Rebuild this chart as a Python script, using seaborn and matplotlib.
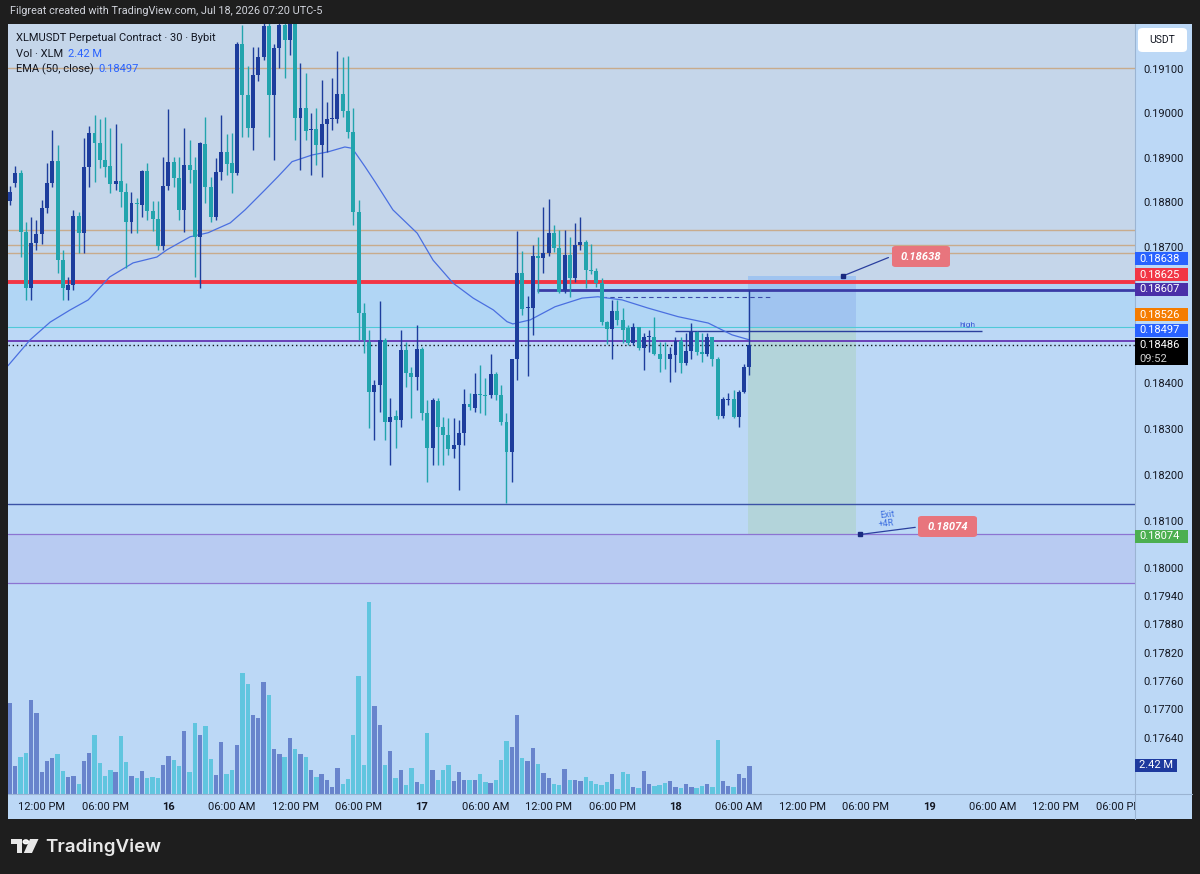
import numpy as np
import pandas as pd
import seaborn as sns
import matplotlib.pyplot as plt
from matplotlib.patches import Rectangle, Polygon, Circle, FancyBboxPatch

sns.set_style('white')
plt.rcParams['font.family'] = ['Roboto', 'DejaVu Sans']

# XLMUSDT perpetual, 30 min candles, Jul 15 09:00 -> Jul 18 07:00
opens = [0.18804, 0.18845, 0.18867, 0.18736, 0.18611, 0.18712, 0.18731, 0.18790, 0.18845, 0.18895,
         0.18673, 0.18608, 0.18618, 0.18772, 0.18733, 0.18880, 0.18957, 0.18934, 0.18897, 0.18884,
         0.18842, 0.18850, 0.18824, 0.18759, 0.18801, 0.18796, 0.18871, 0.18783, 0.18764, 0.18704,
         0.18839, 0.18892, 0.18856, 0.18785, 0.18885, 0.18874, 0.18725, 0.18933, 0.18836, 0.18770,
         0.18869, 0.18914, 0.18889, 0.18867, 0.19159, 0.19044, 0.18968, 0.19089, 0.19130, 0.19199,
         0.19044, 0.19149, 0.19203, 0.19168, 0.19215, 0.18991, 0.19015, 0.18964, 0.18966, 0.18930,
         0.18977, 0.18989, 0.18990, 0.19046, 0.19006, 0.18960, 0.18781, 0.18556, 0.18493, 0.18383,
         0.18398, 0.18497, 0.18318, 0.18331, 0.18322, 0.18475, 0.18425, 0.18415, 0.18477, 0.18337,
         0.18261, 0.18364, 0.18307, 0.18289, 0.18259, 0.18267, 0.18293, 0.18357, 0.18348, 0.18378,
         0.18377, 0.18376, 0.18422, 0.18376, 0.18318, 0.18253, 0.18455, 0.18645, 0.18567, 0.18567,
         0.18682, 0.18677, 0.18688, 0.18733, 0.18699, 0.18607, 0.18684, 0.18633, 0.18707, 0.18714,
         0.18651, 0.18649, 0.18623, 0.18537, 0.18520, 0.18561, 0.18541, 0.18523, 0.18491, 0.18525,
         0.18478, 0.18503, 0.18504, 0.18467, 0.18456, 0.18454, 0.18464, 0.18495, 0.18447, 0.18473,
         0.18515, 0.18471, 0.18467, 0.18504, 0.18454, 0.18331, 0.18366, 0.18367, 0.18329, 0.18383,
         0.18437]
highs = [0.18839, 0.18884, 0.18874, 0.18759, 0.18770, 0.18763, 0.18807, 0.18889, 0.18964, 0.18930,
         0.18696, 0.18636, 0.18785, 0.18781, 0.18946, 0.18973, 0.18998, 0.18989, 0.18993, 0.18968,
         0.18977, 0.18934, 0.18845, 0.18826, 0.18811, 0.18874, 0.18891, 0.18804, 0.18804, 0.18904,
         0.19011, 0.18903, 0.18904, 0.18968, 0.18942, 0.18904, 0.18938, 0.18993, 0.18859, 0.18902,
         0.18998, 0.18955, 0.18957, 0.19164, 0.19203, 0.19108, 0.19152, 0.19153, 0.19230, 0.19207,
         0.19159, 0.19240, 0.19240, 0.19250, 0.19230, 0.19115, 0.19093, 0.19002, 0.19013, 0.19077,
         0.19028, 0.19081, 0.19143, 0.19129, 0.19132, 0.19013, 0.18807, 0.18578, 0.18519, 0.18409,
         0.18583, 0.18501, 0.18370, 0.18344, 0.18519, 0.18493, 0.18438, 0.18530, 0.18481, 0.18365,
         0.18370, 0.18370, 0.18329, 0.18326, 0.18326, 0.18322, 0.18389, 0.18380, 0.18424, 0.18442,
         0.18413, 0.18466, 0.18426, 0.18398, 0.18337, 0.18455, 0.18739, 0.18693, 0.18594, 0.18707,
         0.18725, 0.18791, 0.18809, 0.18751, 0.18740, 0.18740, 0.18725, 0.18755, 0.18770, 0.18718,
         0.18710, 0.18656, 0.18633, 0.18539, 0.18585, 0.18585, 0.18567, 0.18530, 0.18535, 0.18526,
         0.18512, 0.18519, 0.18548, 0.18493, 0.18493, 0.18482, 0.18504, 0.18504, 0.18512, 0.18534,
         0.18517, 0.18512, 0.18512, 0.18504, 0.18460, 0.18372, 0.18380, 0.18387, 0.18387, 0.18445,
         0.18607]
lows = [0.18796, 0.18837, 0.18681, 0.18585, 0.18585, 0.18696, 0.18710, 0.18778, 0.18837, 0.18644,
        0.18585, 0.18585, 0.18607, 0.18688, 0.18688, 0.18837, 0.18848, 0.18878, 0.18859, 0.18822,
        0.18830, 0.18792, 0.18655, 0.18733, 0.18733, 0.18770, 0.18763, 0.18739, 0.18696, 0.18696,
        0.18830, 0.18837, 0.18763, 0.18736, 0.18845, 0.18636, 0.18611, 0.18800, 0.18759, 0.18763,
        0.18852, 0.18863, 0.18822, 0.18863, 0.18949, 0.18949, 0.18919, 0.19074, 0.19123, 0.18949,
        0.18897, 0.19104, 0.19082, 0.19134, 0.18942, 0.18874, 0.18942, 0.18863, 0.18886, 0.18859,
        0.18915, 0.18964, 0.18980, 0.18994, 0.18946, 0.18751, 0.18497, 0.18468, 0.18305, 0.18278,
        0.18340, 0.18278, 0.18224, 0.18261, 0.18307, 0.18394, 0.18326, 0.18387, 0.18322, 0.18188,
        0.18224, 0.18224, 0.18224, 0.18246, 0.18239, 0.18170, 0.18267, 0.18344, 0.18339, 0.18337,
        0.18333, 0.18370, 0.18365, 0.18311, 0.18142, 0.18188, 0.18410, 0.18552, 0.18418, 0.18508,
        0.18600, 0.18644, 0.18682, 0.18691, 0.18600, 0.18600, 0.18591, 0.18624, 0.18696, 0.18611,
        0.18642, 0.18613, 0.18530, 0.18488, 0.18456, 0.18530, 0.18489, 0.18486, 0.18486, 0.18475,
        0.18431, 0.18471, 0.18464, 0.18427, 0.18434, 0.18405, 0.18427, 0.18425, 0.18442, 0.18454,
        0.18464, 0.18449, 0.18462, 0.18440, 0.18323, 0.18327, 0.18354, 0.18326, 0.18307, 0.18380,
        0.18420]
closes = [0.18826, 0.18867, 0.18736, 0.18611, 0.18712, 0.18731, 0.18790, 0.18845, 0.18895, 0.18673,
          0.18611, 0.18618, 0.18772, 0.18733, 0.18880, 0.18957, 0.18934, 0.18897, 0.18882, 0.18842,
          0.18850, 0.18824, 0.18759, 0.18800, 0.18798, 0.18871, 0.18783, 0.18764, 0.18704, 0.18839,
          0.18892, 0.18856, 0.18785, 0.18885, 0.18874, 0.18725, 0.18934, 0.18836, 0.18770, 0.18869,
          0.18914, 0.18888, 0.18867, 0.19159, 0.19044, 0.18968, 0.19089, 0.19130, 0.19199, 0.19044,
          0.19149, 0.19203, 0.19168, 0.19215, 0.18991, 0.19015, 0.18962, 0.18966, 0.18930, 0.18977,
          0.18990, 0.18991, 0.19046, 0.19006, 0.18960, 0.18781, 0.18556, 0.18497, 0.18382, 0.18398,
          0.18497, 0.18318, 0.18329, 0.18322, 0.18475, 0.18424, 0.18415, 0.18477, 0.18336, 0.18261,
          0.18365, 0.18307, 0.18289, 0.18259, 0.18267, 0.18293, 0.18357, 0.18351, 0.18378, 0.18376,
          0.18375, 0.18422, 0.18376, 0.18318, 0.18253, 0.18455, 0.18645, 0.18565, 0.18568, 0.18682,
          0.18677, 0.18688, 0.18733, 0.18699, 0.18603, 0.18684, 0.18633, 0.18707, 0.18714, 0.18651,
          0.18649, 0.18623, 0.18537, 0.18520, 0.18561, 0.18541, 0.18519, 0.18491, 0.18525, 0.18478,
          0.18504, 0.18505, 0.18467, 0.18454, 0.18454, 0.18466, 0.18495, 0.18447, 0.18473, 0.18515,
          0.18471, 0.18467, 0.18504, 0.18454, 0.18331, 0.18367, 0.18368, 0.18329, 0.18383, 0.18437,
          0.18486]
# volume in millions XLM
volumes = [7.87, 2.42, 3.17, 3.57, 8.12, 7.03, 1.90, 2.85, 3.09, 3.43,
           1.99, 1.44, 1.53, 0.86, 2.85, 3.54, 5.07, 2.68, 1.58, 2.07,
           1.90, 5.01, 2.77, 1.58, 1.38, 1.99, 1.36, 1.44, 1.38, 2.53,
           3.31, 2.94, 2.39, 5.45, 1.90, 6.14, 5.07, 5.88, 3.03, 1.62,
           4.49, 1.70, 2.07, 4.21, 10.43, 9.48, 6.85, 6.57, 9.71, 8.58,
           3.86, 3.43, 3.17, 4.81, 3.86, 3.43, 3.17, 2.07, 1.44, 1.70,
           1.21, 0.63, 2.22, 0.86, 1.30, 5.13, 10.22, 2.48, 16.62, 7.58,
           5.94, 2.53, 3.72, 1.38, 2.07, 0.80, 2.25, 1.04, 0.86, 5.30,
           2.07, 1.21, 2.07, 2.48, 1.12, 1.90, 1.21, 1.21, 1.21, 1.70,
           1.04, 0.98, 1.21, 2.94, 4.58, 4.06, 6.80, 3.09, 2.85, 3.95,
           2.62, 1.82, 1.36, 0.86, 0.75, 2.16, 1.21, 1.21, 1.12, 1.44,
           1.12, 0.86, 0.80, 1.04, 1.70, 0.41, 1.90, 1.75, 0.61, 0.49,
           1.99, 0.89, 0.67, 0.80, 0.95, 1.12, 0.61, 0.49, 0.89, 0.61,
           0.49, 0.67, 0.89, 0.61, 4.67, 1.12, 0.67, 0.61, 1.75, 1.36,
           2.42]

# EMA(50) (bar position, value)
ema_pos = [-0.4, 3.8, 7.6, 11.4, 14.8, 18.9, 23.3, 27.8, 29.7, 34.1, 37.5, 41.7, 44.5, 48.3,
           50.7, 53.4, 57.2, 60.2, 63.4, 64.8, 67.2, 69.1, 72.5, 77.1, 80.1, 83.9, 87.7, 91.5,
           94.1, 95.2, 98.5, 103.2, 108.3, 111.3, 115.9, 120.8, 126.5, 132.2, 136.7, 140]
ema_val = [0.18440, 0.18497, 0.18536, 0.18563, 0.18585, 0.18636, 0.18667, 0.18680, 0.18696,
           0.18725, 0.18734, 0.18756, 0.18785, 0.18830, 0.18859, 0.18893, 0.18908, 0.18915,
           0.18926, 0.18923, 0.18882, 0.18848, 0.18785, 0.18733, 0.18673, 0.18622, 0.18589,
           0.18563, 0.18537, 0.18532, 0.18541, 0.18570, 0.18589, 0.18592, 0.18585, 0.18567,
           0.18548, 0.18534, 0.18508, 0.18497]

# drawn levels
fib_levels = [0.19104, 0.18740, 0.18707, 0.18690]
red_level = 0.18625
blue_level = 0.18607
dash_level = 0.18591
entry_level = 0.18526
high_level = 0.18517
purple_level = 0.18494
last_price = 0.18486
low_level = 0.18140
stop_price = 0.18638
target_price = 0.18074
zone_low = 0.17970

price_ticks = [0.191, 0.190, 0.189, 0.188, 0.187, 0.184, 0.183, 0.182, 0.181, 0.180,
               0.1794, 0.1788, 0.1782, 0.1776, 0.1770, 0.1764]
time_pos = [6, 18, 30, 42, 54, 66, 78, 90, 102, 114, 126, 138, 150, 162, 174, 186, 198, 210]
time_labels = ['12:00 PM', '06:00 PM', '16', '06:00 AM', '12:00 PM', '06:00 PM', '17', '06:00 AM',
               '12:00 PM', '06:00 PM', '18', '06:00 AM', '12:00 PM', '06:00 PM', '19', '06:00 AM',
               '12:00 PM', '06:00 PM']

df = pd.DataFrame({'open': opens, 'high': highs, 'low': lows, 'close': closes, 'volume': volumes})
df['i'] = np.arange(len(df))
df['dir'] = np.where(df['close'] >= df['open'], 'up', 'down')

BG = '#bcd8f6'
UP, DN = '#1d3d9c', '#22a4ad'
TXT = '#131722'

W, H = 1200, 874
def rect(x0, y0, x1, y1):
    return [x0 / W, 1 - y1 / H, (x1 - x0) / W, (y1 - y0) / H]

def fpt(x, y):
    return (x / W, 1 - y / H)

fig = plt.figure(figsize=(W / 100, H / 100), dpi=100, facecolor='#1e1e1e')
fig.patches.append(Rectangle((8 / W, 1 - 819 / H), 1184 / W, 795 / H, transform=fig.transFigure,
                             facecolor=BG, edgecolor='none', zorder=-10))

ax = fig.add_axes(rect(8, 24, 1135, 794))
ax.set_facecolor(BG)
ax.set_yscale('log')
YLIM = (0.175249, 0.192047)
XLIM = (-0.38, 213.0)

# zones
ax.axhspan(red_level, 0.195, color='#c5d6ea', zorder=0, lw=0)
ax.axhspan(entry_level, red_level, color='#b1d6f5', zorder=0, lw=0)
ax.axhspan(zone_low, target_price, color='#b8cbf2', zorder=0, lw=0)

# position tool
ax.add_patch(Rectangle((139.75, entry_level), 20.45, stop_price - entry_level,
                       facecolor='#a0c4f0', edgecolor='none', zorder=1))
ax.add_patch(Rectangle((139.75, target_price), 20.45, entry_level - target_price,
                       facecolor='#b3d4da', edgecolor='none', zorder=1))

for lv in fib_levels:
    ax.axhline(lv, color='#c8ab8c', lw=1.0, zorder=2)
ax.axhline(red_level, color='#f23645', lw=2.8, zorder=2)
ax.hlines(blue_level, 99.8, 213, color='#3a3ca6', lw=2.0, zorder=2)
ax.hlines(dash_level, 112.1, 144.3, color='#3a4aa8', lw=0.8, ls=(0, (4, 3)), zorder=2)
ax.axhline(entry_level, color='#4fc9d8', lw=0.8, zorder=2)
ax.hlines(high_level, 125.9, 184.1, color='#2a3f9e', lw=1.0, zorder=2)
ax.text(181.2, high_level * 1.0003, 'high', color='#3d5bd6', fontsize=6, ha='center', va='bottom')
ax.axhline(purple_level, color='#6a41b8', lw=1.4, zorder=2)
ax.axhline(last_price, color=TXT, lw=1.0, ls=(0, (1, 2)), zorder=2)
ax.axhline(low_level, color='#3b52a6', lw=1.0, zorder=2)
ax.axhline(target_price, color='#8c74d2', lw=0.9, zorder=2)
ax.axhline(zone_low, color='#8c74d2', lw=0.9, zorder=2)

# candles
cols = np.where(df['dir'] == 'up', UP, DN)
body_lo = df[['open', 'close']].min(axis=1)
body_h = np.maximum((df['close'] - df['open']).abs(), 0.00002)
ax.vlines(df['i'], df['low'], df['high'], colors=cols, lw=1.0, zorder=4)
ax.bar(df['i'], body_h, bottom=body_lo, width=0.75, color=cols, edgecolor='none', lw=0, zorder=5)

# EMA 50
sns.lineplot(x=ema_pos, y=ema_val, ax=ax, color='#4a6fe0', lw=0.9, zorder=3)

ax.set_ylim(*YLIM)
ax.set_xlim(*XLIM)
ax.set_xticks([])
ax.set_yticks([])
ax.minorticks_off()
ax.set_xlabel('')
ax.set_ylabel('')
for s in ax.spines.values():
    s.set_visible(False)

# volume overlay
ax2 = ax.twinx()
sns.barplot(data=df, x='i', y='volume', hue='dir', palette={'up': '#6884cc', 'down': '#60c5df'},
            native_scale=True, dodge=False, saturation=1, errorbar=None, legend=False,
            width=0.82, edgecolor='none', linewidth=0, ax=ax2)
ax2.set_ylim(0, 66.5)
ax2.set_xlim(*XLIM)
ax2.axis('off')

# annotation labels on chart
px = fig.transFigure

def tag(xc, yc, w, h, text, color):
    fig.patches.append(FancyBboxPatch(fpt(xc - w / 2, yc + h / 2), w / W, h / H, transform=px,
                                      boxstyle='round,pad=0,rounding_size=0.003',
                                      facecolor=color, edgecolor='none', zorder=10))
    fig.text(*fpt(xc, yc), text, color='white', fontsize=8, fontweight='bold', fontstyle='italic',
             ha='center', va='center', zorder=11)

ax.annotate('', xy=(157.7, stop_price), xytext=fpt(891, 256.5), textcoords='figure fraction',
            arrowprops=dict(arrowstyle='-', color='#2a3f9e', lw=0.9))
ax.plot([157.7], [stop_price], 's', ms=2.5, color='#1a2a80', zorder=6)
tag(921, 256.5, 58, 21, '0.18638', '#e8757d')
ax.annotate('', xy=(161.0, target_price), xytext=fpt(918, 527), textcoords='figure fraction',
            arrowprops=dict(arrowstyle='-', color='#2a3f9e', lw=0.9))
ax.plot([161.0], [target_price], 's', ms=2.5, color='#1a2a80', zorder=6)
tag(947.5, 526.5, 59, 21, '0.18074', '#e8757d')
fig.text(*fpt(887, 515), 'Exit', color='#3d6fe0', fontsize=6.5, ha='center', va='center', rotation=6)
fig.text(*fpt(886, 524), '+4R', color='#3d6fe0', fontsize=6.5, ha='center', va='center', rotation=6)

# legend
fig.text(*fpt(16, 38), 'XLMUSDT Perpetual Contract · 30 · Bybit', color=TXT, fontsize=8, va='center')
fig.text(*fpt(16, 54), 'Vol · XLM', color=TXT, fontsize=8, va='center')
fig.text(*fpt(68, 54), '2.42 M', color='#2962ff', fontsize=8, va='center')
fig.text(*fpt(16, 69), 'EMA (50, close)', color=TXT, fontsize=8, va='center')
fig.text(*fpt(98, 69), '0.18497', color='#2962ff', fontsize=8, va='center')

# price scale
axr = fig.add_axes(rect(1135, 24, 1192, 794))
axr.set_yscale('log')
axr.set_ylim(*YLIM)
axr.set_xlim(0, 1)
axr.axis('off')
for p in price_ticks:
    axr.text(0.14, p, f'{p:.5f}', color=TXT, fontsize=8, va='center', ha='left')

def scale_tag(yc, text, color, h=13, w=53, x0=1135):
    fig.patches.append(Rectangle(fpt(x0, yc + h / 2), w / W, h / H, transform=px,
                                 facecolor=color, edgecolor='none', zorder=10))
    fig.text(*fpt(x0 + 4, yc), text, color='white', fontsize=8, va='center', ha='left', zorder=11)

scale_tag(258.5, '0.18638', '#2962ff')
scale_tag(274.5, '0.18625', '#f23645')
scale_tag(289.5, '0.18607', '#4a2fa8')
scale_tag(314.5, '0.18526', '#f57c00')
scale_tag(330.0, '0.18497', '#2962ff')
fig.patches.append(Rectangle(fpt(1135, 365), 53 / W, 27 / H, transform=px,
                             facecolor='#000000', edgecolor='none', zorder=10))
fig.text(*fpt(1139, 345), '0.18486', color='white', fontsize=8, va='center', zorder=11)
fig.text(*fpt(1139, 359), '09:52', color='#d0d0d0', fontsize=8, va='center', zorder=11)
scale_tag(536, '0.18074', '#4caf50')
scale_tag(765.5, '2.42 M', '#1e3a9e', w=42)
fig.patches.append(FancyBboxPatch(fpt(1138, 52), 49 / W, 24 / H, transform=px,
                                  boxstyle='round,pad=0,rounding_size=0.004',
                                  facecolor='white', edgecolor='none', zorder=10))
fig.text(*fpt(1162.5, 40), 'USDT', color=TXT, fontsize=7.5, ha='center', va='center', zorder=11)

# time scale
axt = fig.add_axes(rect(8, 794, 1135, 819))
axt.set_xlim(*XLIM)
axt.set_ylim(0, 1)
axt.axis('off')
for pos, lab in zip(time_pos, time_labels):
    bold = lab.isdigit()
    axt.text(pos, 0.5, lab, color=TXT, fontsize=8, ha='center', va='center',
             fontweight='bold' if bold else 'normal', clip_on=True)

# separators
fig.add_artist(plt.Line2D([1135 / W, 1135 / W], [1 - 819 / H, 1 - 24 / H], transform=px,
                          color='#9bb4d2', lw=0.8))
fig.add_artist(plt.Line2D([8 / W, 1192 / W], [1 - 794 / H, 1 - 794 / H], transform=px,
                          color='#9bb4d2', lw=0.8))

# header and footer
fig.text(*fpt(10, 11), 'Filgreat created with TradingView.com, Jul 18, 2026 07:20 UTC-5',
         color='#d1d4dc', fontsize=7.8, va='center')
fig.patches.append(Polygon([fpt(11, 839), fpt(22, 839), fpt(22, 853), fpt(16.5, 853),
                            fpt(16.5, 843.5), fpt(11, 843.5)], closed=True, transform=px,
                           facecolor='#e8e8e8', edgecolor='none'))
fig.patches.append(Circle(fpt(25.8, 841.8), 2.6 / W, transform=px, facecolor='#e8e8e8'))
fig.patches.append(Polygon([fpt(30, 839), fpt(38.5, 839), fpt(32, 853), fpt(23.8, 853)], closed=True,
                           transform=px, facecolor='#e8e8e8', edgecolor='none'))
fig.text(*fpt(45, 847), 'TradingView', color='#e8e8e8', fontsize=13.5, fontweight='semibold',
         family=['Inter', 'DejaVu Sans'], va='center')

plt.savefig('out.png', dpi=100, facecolor=fig.get_facecolor())
